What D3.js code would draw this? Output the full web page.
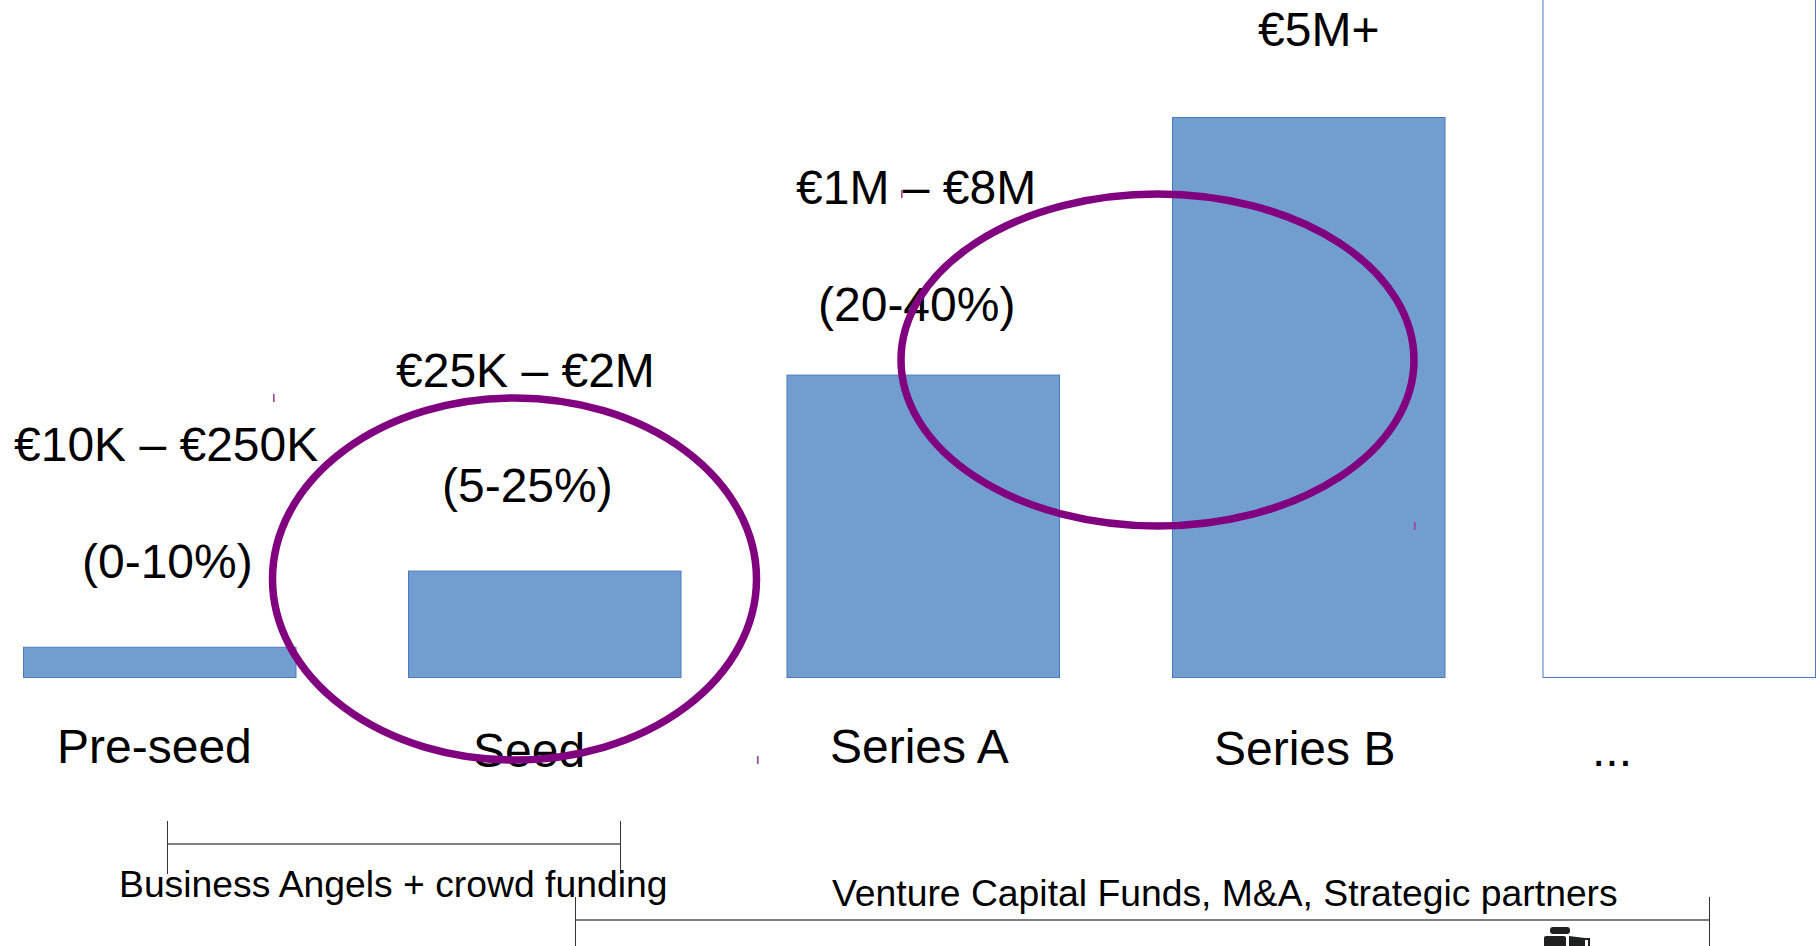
<!DOCTYPE html>
<html>
<head>
<meta charset="utf-8">
<style>
html, body { margin: 0; padding: 0; background: #fff; overflow: hidden; }
svg { display: block; }
text { font-family: "Liberation Sans", Arial, sans-serif; fill: #000; }
</style>
<script src="https://cdnjs.cloudflare.com/ajax/libs/d3/7.8.5/d3.min.js"></script>
</head>
<body>
<div id="chart"></div>
<script>
// data, heights relative to Series B = 100
const stages = ["Pre-seed", "Seed", "Series A", "Series B", "..."];
const barHeights = [5.4, 19, 54, 100, 125];
const amounts = ["€10K – €250K", "€25K – €2M", "€1M – €8M", "€5M+"];
const stakes = ["(0-10%)", "(5-25%)", "(20-40%)"];
const investors = ["Business Angels + crowd funding", "Venture Capital Funds, M&A, Strategic partners"];

const config = {
    svgWidth: 1816,
    svgHeight: 946,
    baseline: 677,
    barWidth: 272.5,
    bigFont: 48,
    smallFont: 37.3
}

// the bars are not evenly spaced in the picture
const xScale = d3.scaleOrdinal().domain(stages).range([23, 408, 786.5, 1172, 1542.5]);
const yScale = d3.scaleLinear().domain([0, 100]).range([config.baseline, 117]);

const svg = d3.select('#chart').append('svg')
    .attr('width', config.svgWidth)
    .attr('height', config.svgHeight);

// bars
svg.append('g').selectAll('rect')
    .data(stages)
    .enter()
    .append('rect')
    .attr('x', d => xScale(d) + 0.5)
    .attr('y', (d, i) => yScale(barHeights[i]) + 0.5)
    .attr('width', config.barWidth)
    .attr('height', (d, i) => config.baseline - yScale(barHeights[i]))
    .attr('fill', (d, i) => i === 4 ? '#fff' : '#729ecf')
    .attr('stroke', '#4a78c2')
    .attr('stroke-width', 1);

// text, [x, baseline] of each label
const amountPos = [[14, 461], [396, 387], [796, 204], [1258, 46]];
const stakePos = [[82, 578], [442, 502], [818, 321]];
const stagePos = [[57, 763], [473, 767], [830, 763], [1214, 765], [1592, 766]];
const investorPos = [[119, 897], [832, 906]];

function labels(items, pos, size) {
    svg.append('g').selectAll('text')
        .data(items)
        .enter()
        .append('text')
        .attr('x', (d, i) => pos[i][0])
        .attr('y', (d, i) => pos[i][1])
        .attr('font-size', size)
        .text(d => d);
}
labels(amounts, amountPos, config.bigFont);
labels(stakes, stakePos, config.bigFont);
labels(stages, stagePos, config.bigFont);
labels(investors, investorPos, config.smallFont);

// brackets under the stages
const brackets = [
    { x1: 167, x2: 620, y: 844, top: 821, bottom: 874 },
    { x1: 575, x2: 1709, y: 920, top: 897, bottom: 946 }
];
const bracketGroup = svg.append('g');
brackets.forEach(b => {
    bracketGroup.append('line')
        .attr('x1', b.x1).attr('x2', b.x2).attr('y1', b.y).attr('y2', b.y)
        .attr('stroke', '#555').attr('stroke-width', 1.4);
    [b.x1, b.x2].forEach(x => {
        bracketGroup.append('line')
            .attr('x1', x + 0.5).attr('x2', x + 0.5).attr('y1', b.top).attr('y2', b.bottom)
            .attr('stroke', '#333').attr('stroke-width', 1);
    });
});

// purple ellipses and the little handles left at their corners
const ellipses = [
    { cx: 514.5, cy: 579, rx: 242, ry: 181 },
    { cx: 1157.5, cy: 360, rx: 256.5, ry: 166 }
];
const ellipseGroup = svg.append('g');
ellipses.forEach(e => {
    ellipseGroup.append('ellipse')
        .attr('cx', e.cx).attr('cy', e.cy).attr('rx', e.rx).attr('ry', e.ry)
        .attr('fill', 'none')
        .attr('stroke', '#800080')
        .attr('stroke-width', 7.5);
    [[e.cx - e.rx, e.cy - e.ry], [e.cx + e.rx, e.cy + e.ry]].forEach(p => {
        ellipseGroup.append('rect')
            .attr('x', Math.round(p[0]))
            .attr('y', p[1] - 4)
            .attr('width', 1.6)
            .attr('height', 8)
            .attr('fill', '#a040a0');
    });
});

// cut off icon at the bottom edge
const icon = svg.append('g').attr('fill', '#1f2020');
icon.append('rect').attr('x', 1550).attr('y', 927).attr('width', 20).attr('height', 7).attr('rx', 3);
icon.append('rect').attr('x', 1544).attr('y', 936).attr('width', 22).attr('height', 12).attr('rx', 2);
icon.append('path').attr('d', 'M1569 936 L1585 938 L1590 938 L1590 948 L1569 948 Z');
icon.append('rect').attr('x', 1585).attr('y', 940).attr('width', 3).attr('height', 6).attr('fill', '#fff');
</script>
</body>
</html>
